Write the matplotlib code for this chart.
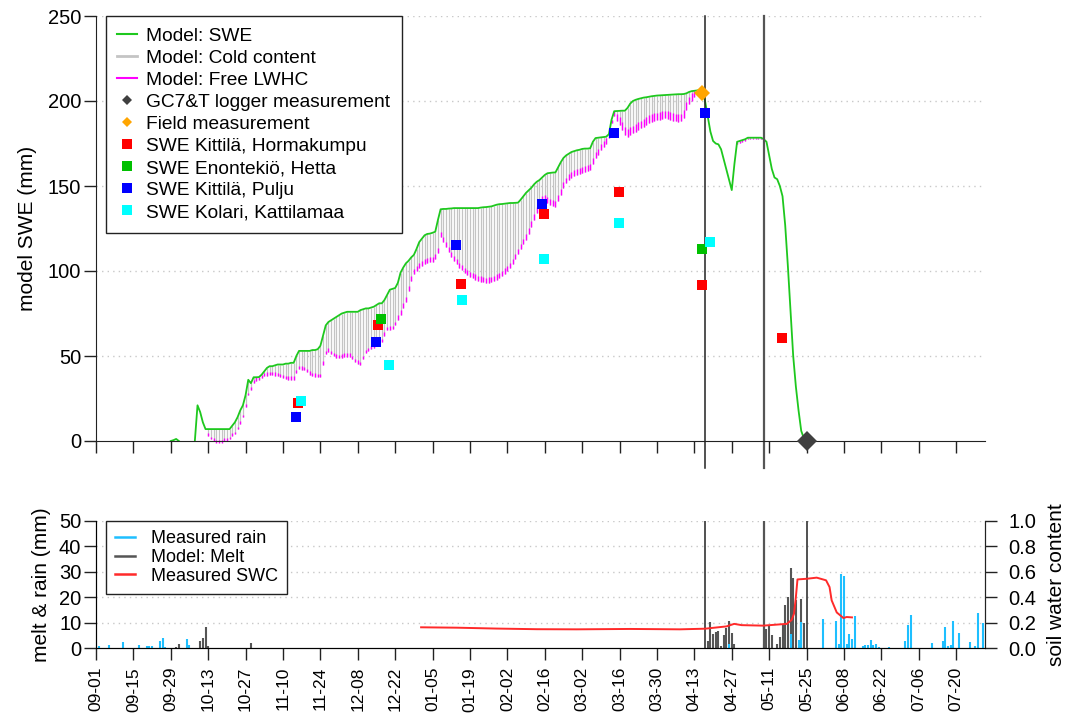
import numpy as np
import pandas as pd
import matplotlib
matplotlib.use("Agg")
import matplotlib.pyplot as plt
from matplotlib.lines import Line2D

plt.rcParams['font.family'] = ['Liberation Sans', 'DejaVu Sans']

# ---------------- data ----------------
start = pd.Timestamp('2016-09-01')
tick_dates = pd.date_range(start, periods=24, freq='14D')
tick_days = np.asarray((tick_dates - start).days)
tick_labels = list(tick_dates.strftime('%m-%d'))
x_max = 332.8

# modelled SWE (mm), daily, first value = day 28 after 09-01
swe_first_day = 28
swe = [
    0, 0.5, 1.2, 0, 0, 0, 0, 0, 0, 0,                                 # 28-37
    21, 17, 11, 7, 7, 7, 7, 7, 7, 7,                                  # 38-47
    7, 7, 7, 9, 11, 14, 18, 21, 27, 36,                               # 48-57
    34, 37.5, 37.5, 37.6, 39, 41, 43, 44, 44, 44.5,                   # 58-67
    45, 45, 45, 45.5, 45.5, 46, 46, 50, 53, 53,                       # 68-77
    53, 53, 53, 53.5, 53.5, 54, 56, 62, 68, 70,                       # 78-87
    71, 72, 73, 74, 75, 75.5, 76, 76, 76, 76,                         # 88-97
    76, 77, 77.5, 78, 78, 78.5, 79, 80, 81, 81,                       # 98-107
    83, 86, 89, 89.5, 90, 93, 99, 102, 104.5, 106,                    # 108-117
    108, 109.5, 113, 117, 119, 121, 121.8, 122, 122.5, 123.1,         # 118-127
    130, 136.3, 136.5, 136.5, 136.7, 136.8, 137, 137, 137, 137,       # 128-137
    137, 137, 137, 137, 137, 137, 137.3, 137.5, 137.6, 137.8,         # 138-147
    138, 138.5, 139, 139.3, 139.4, 139.6, 139.8, 140, 140, 140.1,     # 148-157
    140.2, 142, 144, 146, 147.5, 149, 151, 152.5, 153.5, 155,         # 158-167
    156.5, 157.5, 157.7, 157.9, 158, 161, 164, 166.5, 168, 169,       # 168-177
    170, 170.5, 171, 171.3, 171.8, 172, 172, 172.2, 176, 178.2,       # 178-187
    178.4, 178.6, 178.8, 179, 180.5, 189, 194, 194.1, 194.2, 194.3,   # 188-197
    194.3, 196, 198.5, 200, 200.7, 201.2, 201.6, 202, 202.2, 202.5,   # 198-207
    202.8, 203, 203.2, 203.3, 203.4, 203.5, 203.6, 203.7, 203.8, 203.9,  # 208-217
    204, 204, 204.1, 204.5, 205.3, 205.8, 206, 206.2, 206.5, 206,     # 218-227
    200, 191, 182, 176.5, 175, 174.5, 171.6, 165.6, 159.6, 153.6,     # 228-237
    147.6, 163, 176, 176.5, 177, 177.5, 178.4, 178.4, 178.4, 178.4,   # 238-247
    178.4, 178.4, 177.5, 176, 168, 160, 155, 154, 150, 144,           # 248-257
    127, 103, 77, 50, 32, 18, 6, 1.5, 0,                              # 258-266
]

# SWE minus cold content (lower end of the grey bars), first value = day 41
cc_first_day = 41
swe_minus_cc = [
    7, 3, 1, 0, -1, -1, -1, 0, 0, 1,                                  # 41-50
    3, 4, 7, 10, 14, 20, 27, 30, 34, 35.5,                            # 51-60
    36, 37, 38, 38.5, 38.8, 38.8, 38.5, 38, 37.5, 37,                 # 61-70
    36.3, 36, 36, 36, 40, 42.2, 42, 41.8, 40.5, 39,                   # 71-80
    38, 37.8, 37.5, 37.5, 45, 51, 52.5, 51, 50, 49,                   # 81-90
    48.6, 49, 49.5, 49.6, 49.6, 48, 46.5, 45.5, 44.7, 48,             # 91-100
    51.6, 53, 54, 55, 56, 56.5, 58, 62, 65.3, 65.5,                   # 101-110
    65.7, 68, 71, 74, 78, 82, 88, 94, 98, 100,                        # 111-120
    101.6, 103, 104, 104.7, 105.2, 105.5, 107, 110.4, 120, 117,       # 121-130
    114, 111, 108, 106, 104, 102, 100.5, 99, 97.5, 96.6,              # 131-140
    95.8, 95, 94.3, 93.8, 93.3, 93.1, 93.2, 93.5, 94, 95,             # 141-150
    95.7, 97, 98.5, 100, 101.6, 104, 107, 110, 113, 116,              # 151-160
    118.2, 122, 126, 130, 134, 138, 140.8, 141, 140, 139,             # 161-170
    138.3, 137.8, 141, 145, 149, 151.5, 153.5, 155, 156, 156.5,       # 171-180
    157, 157.8, 158.5, 159, 159.4, 163, 166.3, 168.5, 171, 173,       # 181-190
    175, 178, 187, 191, 188, 186, 183, 180, 179, 180,                 # 191-200
    181, 182, 182.9, 184, 185, 186, 187, 187.8, 188.3, 188.7,         # 201-210
    189, 189.4, 189.8, 189.5, 189, 188.5, 188, 187.8, 188, 190,       # 211-220
    194.7, 198, 200, 202.5, 204, 205.5, 206,                          # 221-227
    None, None, None, None, None, None, None, None, None, None,       # 228-237
    None, None,                                                       # 238-239
    175, 175.5, 176, 176.5, 177.4, 177.4, 177.4, 177.4, 177.4, 177.4,  # 240-249
]

# free liquid water holding capacity (mm), drawn at the foot of the grey bars:
# (first day, last day, mm)
lwhc_periods = [(41, 57, 1.5), (58, 112, 2.0), (113, 160, 3.0),
                (161, 191, 3.5), (192, 227, 4.5), (240, 249, 1.5)]

# station SWE observations (day after 09-01, mm)
horma_day = [75.5, 105.7, 136.7, 167.8, 195.8, 226.8, 256.9]
horma_swe = [22.4, 68.2, 92.2, 133.5, 146.7, 91.8, 60.4]
hetta_day = [106.7, 226.8]
hetta_swe = [71.6, 112.7]
pulju_day = [74.8, 104.8, 134.8, 166.8, 193.8, 227.8]
pulju_swe = [13.9, 58.4, 115.1, 139.4, 181.4, 192.7]
kolari_day = [76.7, 109.8, 136.9, 167.8, 195.8, 229.7]
kolari_swe = [23.7, 44.7, 83.1, 107.3, 128.0, 116.9]
field_day = [226.8]
field_swe = [204.5]
logger_day = [266.0]
logger_swe = [0.0]

# event lines (day after 09-01)
event_days_top = [228, 250]
event_days_bottom = [228, 250, 266]

# bottom panel
rain_day = [1, 5, 10, 16, 19, 20, 21, 24, 25, 26, 34, 35,
            237, 260, 263, 264,
            272, 277, 278, 279, 280, 281, 282, 283, 284,
            287, 288, 289, 290, 291, 292, 293, 297,
            303, 304, 305, 313, 317, 318, 319, 320, 321, 323, 327, 329, 330, 332]
rain_mm = [0.8, 1.3, 2.4, 1.1, 0.6, 0.8, 0.8, 2.8, 4.1, 0.4, 3.6, 1.0,
           1.7, 5.7, 3.0, 10.2,
           11.4, 10.7, 1.4, 29.3, 28.3, 1.7, 5.7, 3.4, 12.5,
           0.8, 1.0, 1.0, 3.0, 1.0, 1.4, 0.4, 0.4,
           2.8, 8.9, 12.9, 2.1, 2.6, 8.3, 0.7, 1.0, 10.5, 5.9, 2.4, 0.7, 13.9, 9.9]

melt_day = [30, 31, 39, 40, 41, 42, 58,
            229, 230, 231, 232, 233, 234, 235, 236, 237, 238, 239,
            250, 251, 252, 253, 255, 256, 257, 258, 259, 260, 261, 262, 264, 265]
melt_mm = [0.4, 1.7, 2.7, 4.0, 8.1, 0.7, 2.0,
           2.6, 10.2, 5.6, 6.3, 6.7, 0.8, 5.0, 8.0, 10.6, 6.0, 1.7,
           1.4, 7.6, 8.5, 5.0, 1.5, 4.3, 8.9, 16.8, 20.1, 31.6, 27.7, 18.8, 19.2, 10.0]

swc_day = [121.7, 135, 150, 165, 180, 200, 218.6, 228, 236, 238.9, 241.7, 249.8,
           256, 258.6, 260.4, 261.3, 262, 262.6, 266, 269.8, 273.3, 274.6, 275.4,
           277.3, 279.8, 281, 283]
swc_val = [0.163, 0.160, 0.153, 0.148, 0.147, 0.150, 0.147, 0.152, 0.170, 0.190, 0.180, 0.176,
           0.186, 0.190, 0.220, 0.270, 0.400, 0.540, 0.545, 0.554, 0.533, 0.480, 0.375,
           0.280, 0.236, 0.244, 0.241]

# ---------------- styles ----------------
C_SWE = '#1ec81e'
C_CC = '#c4c4c4'
C_LW = '#ff00ff'
C_LOG = '#404040'
C_FIELD = '#ffa500'
C_RED = '#ff0000'
C_GREEN = '#00c000'
C_BLUE = '#0000ff'
C_CYAN = '#00ffff'
C_RAIN = '#1ebfff'
C_MELT = '#555555'
C_SWC = '#ff2a2a'
GRID = dict(color='#c8c8c8', lw=1.0, ls=(0, (1, 3)))
W, H = 1070, 726

fig = plt.figure(figsize=(W / 100, H / 100), dpi=100)
ax = fig.add_axes([96 / W, 1 - 441 / H, 889 / W, 425 / H])
axb = fig.add_axes([96 / W, 1 - 648 / H, 889 / W, 127 / H])

# ---------------- top panel ----------------
swe_arr = np.array(swe, dtype=float)
swe_days = swe_first_day + np.arange(len(swe_arr))
low_arr = np.array([np.nan if v is None else v for v in swe_minus_cc], dtype=float)
low_days = cc_first_day + np.arange(len(low_arr))

for yv in [50, 100, 150, 200, 250]:
    ax.axhline(yv, **GRID, zorder=0.5)

swe_at_low = swe_arr[low_days - swe_first_day]
ok = ~np.isnan(low_arr)
ax.vlines(low_days[ok], low_arr[ok], swe_at_low[ok], colors=C_CC, lw=0.9, zorder=1.5)
for d0, d1, mm in lwhc_periods:
    sel = ok & (low_days >= d0) & (low_days <= d1)
    top = np.minimum(low_arr[sel] + mm, swe_at_low[sel])
    ax.vlines(low_days[sel], low_arr[sel], top, colors=C_LW, lw=1.0,
              zorder=1.6, clip_on=False)

prev = np.r_[0, swe_arr[:-1]]
nxt = np.r_[swe_arr[1:], 0]
hide = (swe_arr == 0) & (prev == 0) & (nxt == 0)
ax.plot(swe_days, np.ma.masked_where(hide, swe_arr), color=C_SWE, lw=1.3, zorder=2.2)

for d in event_days_top:
    ax.axvline(d, ymin=-27 / 425, ymax=1, color='#222222' if d == 228 else '#555555',
               lw=1.1 if d == 228 else 1.6, clip_on=False, zorder=2.4)

mk = dict(ls='none', marker='s', ms=7, mew=0, zorder=3)
ax.plot(horma_day, horma_swe, color=C_RED, **mk)
ax.plot(hetta_day, hetta_swe, color=C_GREEN, **mk)
ax.plot(pulju_day, pulju_swe, color=C_BLUE, **mk)
ax.plot(kolari_day, kolari_swe, color=C_CYAN, **mk)
ax.plot(field_day, field_swe, ls='none', marker='D', ms=8, mew=0, color=C_FIELD, zorder=3.2)
ax.plot(logger_day, logger_swe, ls='none', marker='D', ms=10, mew=0, color=C_LOG,
        zorder=3.2, clip_on=False)

ax.set_xlim(0, x_max)
ax.set_ylim(0, 250)
ax.set_xticks(tick_days)
ax.set_xticklabels([])
ax.set_yticks([0, 50, 100, 150, 200, 250])
ax.tick_params(axis='both', direction='out', length=8.6, width=1, color='#222222',
               labelsize=14.5, pad=2)
for s in ['top', 'right']:
    ax.spines[s].set_visible(False)
for s in ['left', 'bottom']:
    ax.spines[s].set_color('#222222')
ax.set_ylabel('model SWE (mm)', fontsize=15, labelpad=8)
ax.patch.set_alpha(0)

handles = [
    Line2D([], [], color=C_SWE, lw=1.5),
    Line2D([], [], color=C_CC, lw=2),
    Line2D([], [], color=C_LW, lw=1.5),
    Line2D([], [], ls='none', marker='D', ms=5, mew=0, color=C_LOG),
    Line2D([], [], ls='none', marker='D', ms=5, mew=0, color=C_FIELD),
    Line2D([], [], ls='none', marker='s', ms=6.5, mew=0, color=C_RED),
    Line2D([], [], ls='none', marker='s', ms=6.5, mew=0, color=C_GREEN),
    Line2D([], [], ls='none', marker='s', ms=6.5, mew=0, color=C_BLUE),
    Line2D([], [], ls='none', marker='s', ms=6.5, mew=0, color=C_CYAN),
]
labels = ['Model: SWE', 'Model: Cold content', 'Model: Free LWHC',
          'GC7&T logger measurement', 'Field measurement',
          'SWE Kittilä, Hormakumpu', 'SWE Enontekiö, Hetta',
          'SWE Kittilä, Pulju', 'SWE Kolari, Kattilamaa']
leg = ax.legend(handles, labels, loc='upper left', bbox_to_anchor=(10 / 889, 1.0),
                fontsize=13.8, frameon=True, fancybox=False, framealpha=1,
                edgecolor='#222222', borderaxespad=0, handlelength=1.0,
                handletextpad=0.5, labelspacing=0.24, borderpad=0.6)
leg.get_frame().set_linewidth(1.0)
leg.set_zorder(5)

# ---------------- bottom panel ----------------
for yv in [10, 20, 30, 40, 50]:
    axb.axhline(yv, **GRID, zorder=0.5)
axb.vlines(melt_day, 0, melt_mm, colors=C_MELT, lw=1.5, zorder=2)
axb.vlines(rain_day, 0, rain_mm, colors=C_RAIN, lw=1.5, zorder=2.1)
for d in event_days_bottom:
    axb.axvline(d, color='#222222' if d != 250 else '#555555',
                lw=1.1 if d != 250 else 1.6, zorder=2.4)
axb.set_xlim(0, x_max)
axb.set_ylim(0, 50)
axb.set_yticks([0, 10, 20, 30, 40, 50])
axb.set_xticks(tick_days)
axb.set_xticklabels(tick_labels, rotation=90, fontsize=12.5)
axb.tick_params(axis='both', direction='out', length=8.6, width=1, color='#222222')
axb.tick_params(axis='y', labelsize=14.5, pad=2)
axb.tick_params(axis='x', pad=5)
axb.spines['top'].set_visible(False)
for s in ['left', 'bottom', 'right']:
    axb.spines[s].set_color('#222222')
axb.set_ylabel('melt & rain (mm)', fontsize=15, labelpad=6)

axr = axb.twinx()
axr.plot(swc_day, swc_val, color=C_SWC, lw=1.4, zorder=3)
axr.set_ylim(0, 1.0)
axr.set_yticks([0, 0.2, 0.4, 0.6, 0.8, 1.0])
axr.set_yticklabels(['0.0', '0.2', '0.4', '0.6', '0.8', '1.0'])
axr.tick_params(axis='y', direction='out', length=8.6, width=1, color='#222222',
                labelsize=14.5, pad=8)
axr.spines['top'].set_visible(False)
axr.spines['right'].set_color('#222222')
axr.set_ylabel('soil water content', fontsize=15, labelpad=8)

bh = [Line2D([], [], color=C_RAIN, lw=1.8),
      Line2D([], [], color=C_MELT, lw=1.8),
      Line2D([], [], color=C_SWC, lw=1.8)]
bl = ['Measured rain', 'Model: Melt', 'Measured SWC']
legb = axr.legend(bh, bl, loc='upper left', bbox_to_anchor=(10 / 889, 1.0),
                  fontsize=13, frameon=True, fancybox=False, framealpha=1,
                  edgecolor='#222222', borderaxespad=0, handlelength=1.1,
                  handletextpad=0.9, labelspacing=0.1, borderpad=0.5)
legb.get_frame().set_linewidth(1.0)

fig.savefig('out.png', dpi=100)
